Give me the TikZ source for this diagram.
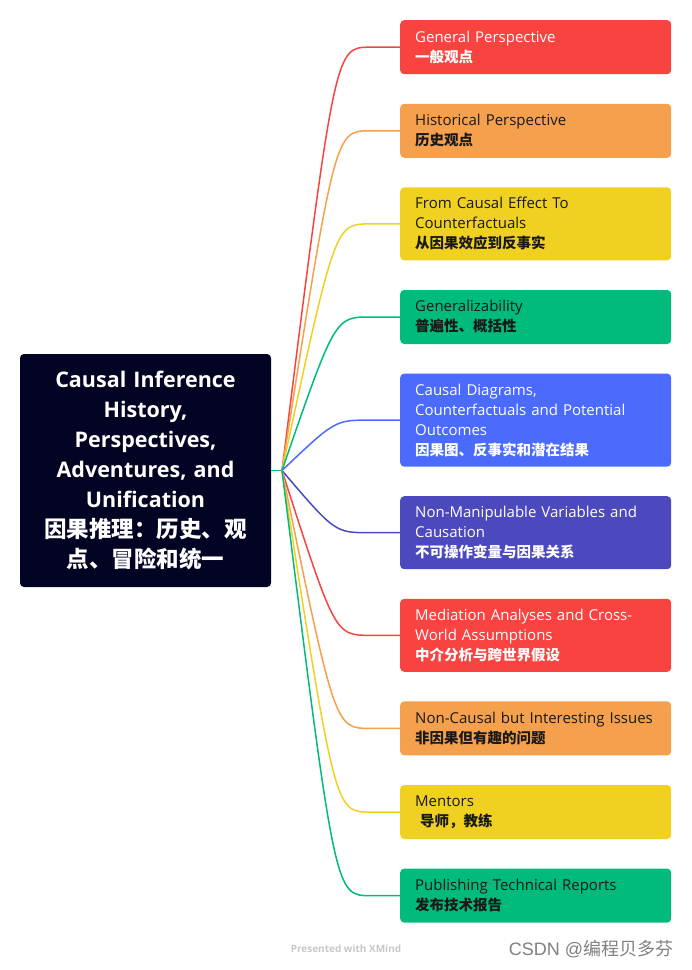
\documentclass[tikz,border=0pt]{standalone}
\usepackage{fontspec}
\setmainfont{Open Sans}
\newfontfamily\cjk{Noto Sans CJK SC}
\newfontfamily\markfont{Liberation Sans}
\usetikzlibrary{positioning, calc}

\definecolor{xnavy}{RGB}{3,3,36}
\definecolor{xred}{RGB}{249,67,64}
\definecolor{xorange}{RGB}{245,160,77}
\definecolor{xyellow}{RGB}{240,209,33}
\definecolor{xgreen}{RGB}{0,187,123}
\definecolor{xblue}{RGB}{75,107,254}
\definecolor{xindigo}{RGB}{75,73,189}
\definecolor{xdark}{RGB}{25,25,25}

\newcommand{\zh}[1]{{\cjk\bfseries\fontsize{14.5}{20}\selectfont #1}}
\newcommand{\zhroot}[1]{{\cjk\bfseries\fontsize{22.5}{30}\selectfont #1}}

\begin{document}
\begin{tikzpicture}[
    x=1pt, y=1pt,
    font=\fontsize{15}{20}\selectfont,
    root/.style={
        rectangle,
        fill=xnavy,
        text=white,
        rounded corners=4pt,
        text width=231pt,
        align=center,
        minimum width=251pt,
        minimum height=233pt,
        inner ysep=0pt,
        font=\fontsize{21.5}{30}\selectfont\bfseries
    },
    topic/.style={
        rectangle,
        rounded corners=4pt,
        text width=241pt,
        inner xsep=15pt,
        inner ysep=0pt,
        align=left,
        minimum height=54pt
    },
    tall/.style={topic, minimum height=73pt},
    taller/.style={topic, minimum height=93pt},
    branch/.style={line width=1.5pt}
]
\useasboundingbox (0,0) rectangle (692,-970);

% Root topic
\node[root] (root) at (145.5,-470.5) {Causal Inference\\History,\\Perspectives,\\Adventures, and\\Unification\\\zhroot{因果推理：历史、观}\\\zhroot{点、冒险和统一}};

% Subtopics, top to bottom
\node[topic, fill=xred, text=white, anchor=north west] (b1) at (400,-20) {General Perspective\\\zh{一般观点}};
\node[topic, fill=xorange, text=xdark, below=29.2pt of b1] (b2) {Historical Perspective\\\zh{历史观点}};
\node[tall, fill=xyellow, text=xdark, below=29.2pt of b2] (b3) {From Causal Effect To\\Counterfactuals\\\zh{从因果效应到反事实}};
\node[topic, fill=xgreen, text=xdark, below=29.2pt of b3] (b4) {Generalizability\\\zh{普遍性、概括性}};
\node[taller, fill=xblue, text=white, below=29.2pt of b4] (b5) {Causal Diagrams,\\Counterfactuals and Potential\\Outcomes\\\zh{因果图、反事实和潜在结果}};
\node[tall, fill=xindigo, text=white, below=29.2pt of b5] (b6) {Non-Manipulable Variables and\\Causation\\\zh{不可操作变量与因果关系}};
\node[tall, fill=xred, text=white, below=29.2pt of b6] (b7) {Mediation Analyses and Cross-\\World Assumptions\\\zh{中介分析与跨世界假设}};
\node[topic, fill=xorange, text=xdark, below=29.2pt of b7] (b8) {Non-Causal but Interesting Issues\\\zh{非因果但有趣的问题}};
\node[topic, fill=xyellow, text=xdark, below=29.2pt of b8] (b9) {Mentors\\\zh{~导师，教练}};
\node[topic, fill=xgreen, text=xdark, below=29.2pt of b9] (b10) {Publishing Technical Reports\\\zh{发布技术报告}};

% Branch lines from the hub
\coordinate (hub) at (282,-470.5);
\coordinate (bend) at (335,0);
\coordinate (flat) at (370,0);
\draw[branch, xgreen] (root.east) -- (hub);
\foreach \n/\c in {b1/xred, b2/xorange, b3/xyellow, b4/xgreen, b5/xblue,
                   b6/xindigo, b7/xred, b8/xorange, b9/xyellow, b10/xgreen}
    \draw[branch, \c] (hub) .. controls (bend |- \n.west) .. (flat |- \n.west) -- (\n.west);

% Footer
\node[text=black!22, font=\fontsize{10}{12}\selectfont\bfseries] (credit) at (346,-949) {Presented with XMind};
\node[text=black!50, font=\markfont\fontsize{18}{20}\selectfont] (mark) at (591,-949) {CSDN @{\cjk 编程贝多芬}};

\end{tikzpicture}
\end{document}
